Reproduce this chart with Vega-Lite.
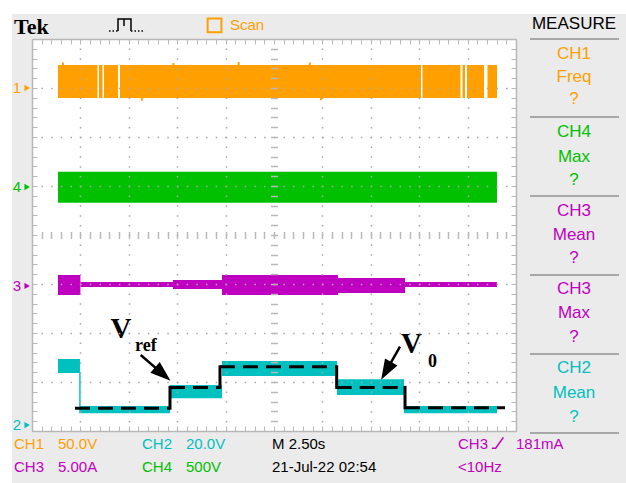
{
  "$schema": "https://vega.github.io/schema/vega-lite/v6.json",
  "width": 484,
  "height": 392,
  "autosize": {"type": "none"},
  "padding": {"left": 32, "top": 39, "right": 110, "bottom": 52},
  "background": "#ebebeb",
  "view": {"fill": "white", "stroke": null},
  "resolve": {"axis": {"x": "independent", "y": "independent"}},
  "datasets": {
    "frame": [
      {"x": -1, "x2": 13, "y": 4.51, "y2": 5.5},
      {"x": -1, "x2": -0.413, "y": -6, "y2": 5.5}
    ],
    "traces": [
      {"ch": "CH1", "x": 0.537, "x2": 1.353, "y": 2.796, "y2": 3.469},
      {"ch": "CH1", "x": 1.384, "x2": 1.457, "y": 2.796, "y2": 3.469},
      {"ch": "CH1", "x": 1.488, "x2": 1.777, "y": 2.796, "y2": 3.469},
      {"ch": "CH1", "x": 1.818, "x2": 8.037, "y": 2.796, "y2": 3.469},
      {"ch": "CH1", "x": 8.068, "x2": 8.853, "y": 2.796, "y2": 3.469},
      {"ch": "CH1", "x": 8.895, "x2": 8.946, "y": 2.796, "y2": 3.469},
      {"ch": "CH1", "x": 8.988, "x2": 9.339, "y": 2.796, "y2": 3.469},
      {"ch": "CH1", "x": 9.411, "x2": 9.607, "y": 2.796, "y2": 3.469},
      {"ch": "CH1", "x": 0.62, "x2": 0.66, "y": 3.469, "y2": 3.52},
      {"ch": "CH1", "x": 2.9, "x2": 2.94, "y": 3.469, "y2": 3.51},
      {"ch": "CH1", "x": 4.25, "x2": 4.29, "y": 3.469, "y2": 3.53},
      {"ch": "CH1", "x": 5.72, "x2": 5.76, "y": 3.469, "y2": 3.52},
      {"ch": "CH1", "x": 2.25, "x2": 2.29, "y": 2.74, "y2": 2.796},
      {"ch": "CH1", "x": 5.95, "x2": 5.99, "y": 2.75, "y2": 2.796},
      {"ch": "CH4", "x": 0.537, "x2": 9.607, "y": 0.659, "y2": 1.292},
      {"ch": "CH3", "x": 0.537, "x2": 1.0, "y": -1.224, "y2": -0.816},
      {"ch": "CH3", "x": 1.0, "x2": 2.913, "y": -1.061, "y2": -0.959},
      {"ch": "CH3", "x": 2.913, "x2": 3.926, "y": -1.102, "y2": -0.918},
      {"ch": "CH3", "x": 3.926, "x2": 6.322, "y": -1.224, "y2": -0.816},
      {"ch": "CH3", "x": 6.322, "x2": 7.707, "y": -1.184, "y2": -0.878},
      {"ch": "CH3", "x": 7.707, "x2": 9.607, "y": -1.061, "y2": -0.959},
      {"ch": "CH2", "x": 0.537, "x2": 0.992, "y": -2.816, "y2": -2.531},
      {"ch": "CH2", "x": 0.975, "x2": 1.005, "y": -3.49, "y2": -2.816},
      {"ch": "CH2", "x": 0.975, "x2": 2.851, "y": -3.639, "y2": -3.49},
      {"ch": "CH2", "x": 2.851, "x2": 3.926, "y": -3.333, "y2": -3.061},
      {"ch": "CH2", "x": 3.926, "x2": 6.302, "y": -2.878, "y2": -2.571},
      {"ch": "CH2", "x": 6.302, "x2": 7.686, "y": -3.265, "y2": -2.945},
      {"ch": "CH2", "x": 7.686, "x2": 9.607, "y": -3.639, "y2": -3.49}
    ],
    "vrefH": [
      {"x": 0.888, "x2": 2.851, "y": -3.535},
      {"x": 2.851, "x2": 3.884, "y": -3.11},
      {"x": 3.884, "x2": 6.295, "y": -2.69},
      {"x": 6.295, "x2": 7.707, "y": -3.11},
      {"x": 7.707, "x2": 9.773, "y": -3.525}
    ],
    "vrefV": [
      {"x": 2.851, "y": -3.535, "y2": -3.11},
      {"x": 3.884, "y": -3.11, "y2": -2.69},
      {"x": 6.295, "y": -2.69, "y2": -3.11},
      {"x": 7.707, "y": -3.11, "y2": -3.525}
    ],
    "arrows": [
      {"x": 2.246, "y": -2.449, "x2": 2.702, "y2": -2.839},
      {"x": 7.603, "y": -2.28, "x2": 7.318, "y2": -2.773}
    ],
    "labels": [
      {"role": "big", "text": "V", "x": 1.839, "y": -2.102},
      {"role": "sub", "text": "ref", "x": 2.128, "y": -2.367},
      {"role": "big", "text": "V", "x": 7.841, "y": -2.408},
      {"role": "sub", "text": "0", "x": 8.182, "y": -2.694}
    ],
    "markers": [
      {"text": "1", "ch": "CH1", "y": 3.0},
      {"text": "4", "ch": "CH4", "y": 0.98},
      {"text": "3", "ch": "CH3", "y": -1.04},
      {"text": "2", "ch": "CH2", "y": -3.88}
    ],
    "measure": [
      {"text": "MEASURE", "ch": "K", "y": 4.296},
      {"text": "CH1", "ch": "CH1", "y": 3.694},
      {"text": "Freq", "ch": "CH1", "y": 3.224},
      {"text": "?", "ch": "CH1", "y": 2.776},
      {"text": "CH4", "ch": "CH4", "y": 2.108},
      {"text": "Max", "ch": "CH4", "y": 1.598},
      {"text": "?", "ch": "CH4", "y": 1.122},
      {"text": "CH3", "ch": "CH3", "y": 0.496},
      {"text": "Mean", "ch": "CH3", "y": 0.0},
      {"text": "?", "ch": "CH3", "y": -0.469},
      {"text": "CH3", "ch": "CH3", "y": -1.102},
      {"text": "Max", "ch": "CH3", "y": -1.592},
      {"text": "?", "ch": "CH3", "y": -2.082},
      {"text": "CH2", "ch": "CH2", "y": -2.714},
      {"text": "Mean", "ch": "CH2", "y": -3.224},
      {"text": "?", "ch": "CH2", "y": -3.714}
    ],
    "separators": [
      {"y": 4.0}, {"y": 2.408}, {"y": 0.796}, {"y": -0.816}, {"y": -2.429}, {"y": -4.041}
    ],
    "status": [
      {"text": "Scan", "x": 4.09, "y": 4.286, "ch": "CH1"},
      {"text": "CH1", "x": -0.372, "y": -4.265, "ch": "CH1"},
      {"text": "50.0V", "x": 0.537, "y": -4.265, "ch": "CH1"},
      {"text": "CH2", "x": 2.273, "y": -4.265, "ch": "CH2"},
      {"text": "20.0V", "x": 3.182, "y": -4.265, "ch": "CH2"},
      {"text": "M 2.50s", "x": 4.959, "y": -4.265, "ch": "K"},
      {"text": "CH3", "x": 8.802, "y": -4.265, "ch": "CH3"},
      {"text": "181mA", "x": 10.0, "y": -4.265, "ch": "CH3"},
      {"text": "CH3", "x": -0.372, "y": -4.73, "ch": "CH3"},
      {"text": "5.00A", "x": 0.537, "y": -4.73, "ch": "CH3"},
      {"text": "CH4", "x": 2.273, "y": -4.73, "ch": "CH4"},
      {"text": "500V", "x": 3.182, "y": -4.73, "ch": "CH4"},
      {"text": "21-Jul-22 02:54", "x": 4.959, "y": -4.73, "ch": "K"},
      {"text": "<10Hz", "x": 8.802, "y": -4.73, "ch": "CH3"}
    ],
    "pulse": [
      {"o": 1, "x": 1.777, "y": 4.163},
      {"o": 2, "x": 1.777, "y": 4.408},
      {"o": 3, "x": 1.901, "y": 4.408},
      {"o": 4, "x": 1.901, "y": 4.265},
      {"o": 5, "x": 1.901, "y": 4.408},
      {"o": 6, "x": 2.045, "y": 4.408},
      {"o": 7, "x": 2.045, "y": 4.163}
    ],
    "pulseBase": [
      {"x": 1.591, "x2": 1.777, "y": 4.163},
      {"x": 2.045, "x2": 2.335, "y": 4.163}
    ],
    "trig": [
      {"o": 1, "x": 9.5, "y": -4.35},
      {"o": 2, "x": 9.58, "y": -4.35},
      {"o": 3, "x": 9.74, "y": -4.13}
    ]
  },
  "layer": [
    {
      "data": {"name": "frame"},
      "mark": {"type": "rect", "color": "white"},
      "encoding": {
        "x": {"field": "x", "type": "quantitative", "axis": null},
        "x2": {"field": "x2"},
        "y": {"field": "y", "type": "quantitative", "axis": null},
        "y2": {"field": "y2"}
      }
    },
    {
      "data": {"values": [{"x": 0, "y": 0}]},
      "mark": {"type": "point", "opacity": 0},
      "encoding": {
        "x": {"field": "x", "type": "quantitative",
          "scale": {"domain": [0, 10], "nice": false, "zero": false},
          "axis": {"orient": "bottom", "labels": false, "title": null, "zindex": 1,
            "values": [0,0.2,0.4,0.6,0.8,1,1.2,1.4,1.6,1.8,2,2.2,2.4,2.6,2.8,3,3.2,3.4,3.6,3.8,4,4.2,4.4,4.6,4.8,5,5.2,5.4,5.6,5.8,6,6.2,6.4,6.6,6.8,7,7.2,7.4,7.6,7.8,8,8.2,8.4,8.6,8.8,9,9.2,9.4,9.6,9.8,10],
            "domainColor": "#b8b8b8", "domainWidth": 1.5, "tickColor": "#b8b8b8", "tickSize": -5, "tickWidth": 1,
            "grid": true, "gridColor": "#a8a8a8", "gridWidth": 1.5, "gridDash": [1.5, 8.3], "gridDashOffset": 0.75,
            "gridOpacity": {"condition": {"test": "abs(datum.value - round(datum.value)) < 0.01 && datum.value > 0.5 && datum.value < 9.5 && abs(datum.value - 5) > 0.5", "value": 1}, "value": 0}}},
        "y": {"field": "y", "type": "quantitative",
          "scale": {"domain": [-4, 4], "nice": false, "zero": false},
          "axis": {"orient": "left", "labels": false, "title": null, "zindex": 1,
            "values": [-4,-3.8,-3.6,-3.4,-3.2,-3,-2.8,-2.6,-2.4,-2.2,-2,-1.8,-1.6,-1.4,-1.2,-1,-0.8,-0.6,-0.4,-0.2,0,0.2,0.4,0.6,0.8,1,1.2,1.4,1.6,1.8,2,2.2,2.4,2.6,2.8,3,3.2,3.4,3.6,3.8,4],
            "domainColor": "#b8b8b8", "domainWidth": 1.5, "tickColor": "#b8b8b8", "tickSize": -5, "tickWidth": 1,
            "grid": true, "gridColor": "#a8a8a8", "gridWidth": 1.5, "gridDash": [1.5, 8.18], "gridDashOffset": 0.75,
            "gridOpacity": {"condition": {"test": "abs(datum.value - round(datum.value)) < 0.01 && datum.value > -3.5 && datum.value < 3.5 && abs(datum.value) > 0.5", "value": 1}, "value": 0}}}
      }
    },
    {
      "data": {"values": [{"x": 0, "y": 0}]},
      "mark": {"type": "point", "opacity": 0},
      "encoding": {
        "x": {"field": "x", "type": "quantitative",
          "axis": {"orient": "top", "labels": false, "title": null, "zindex": 1, "grid": false,
            "values": [0,0.2,0.4,0.6,0.8,1,1.2,1.4,1.6,1.8,2,2.2,2.4,2.6,2.8,3,3.2,3.4,3.6,3.8,4,4.2,4.4,4.6,4.8,5,5.2,5.4,5.6,5.8,6,6.2,6.4,6.6,6.8,7,7.2,7.4,7.6,7.8,8,8.2,8.4,8.6,8.8,9,9.2,9.4,9.6,9.8,10],
            "domainColor": "#b8b8b8", "domainWidth": 1.5, "tickColor": "#b8b8b8", "tickSize": -5, "tickWidth": 1}},
        "y": {"field": "y", "type": "quantitative",
          "axis": {"orient": "right", "labels": false, "title": null, "zindex": 1, "grid": false,
            "values": [-4,-3.8,-3.6,-3.4,-3.2,-3,-2.8,-2.6,-2.4,-2.2,-2,-1.8,-1.6,-1.4,-1.2,-1,-0.8,-0.6,-0.4,-0.2,0,0.2,0.4,0.6,0.8,1,1.2,1.4,1.6,1.8,2,2.2,2.4,2.6,2.8,3,3.2,3.4,3.6,3.8,4],
            "domainColor": "#b8b8b8", "domainWidth": 1.5, "tickColor": "#b8b8b8", "tickSize": -5, "tickWidth": 1}}
      }
    },
    {
      "data": {"values": [{"x": 0, "y": 0}]},
      "mark": {"type": "point", "opacity": 0},
      "encoding": {
        "x": {"field": "x", "type": "quantitative",
          "axis": {"orient": "bottom", "offset": -199.5, "labels": false, "title": null, "zindex": 1, "grid": false, "domain": false,
            "values": [0.2,0.4,0.6,0.8,1,1.2,1.4,1.6,1.8,2,2.2,2.4,2.6,2.8,3,3.2,3.4,3.6,3.8,4,4.2,4.4,4.6,4.8,5,5.2,5.4,5.6,5.8,6,6.2,6.4,6.6,6.8,7,7.2,7.4,7.6,7.8,8,8.2,8.4,8.6,8.8,9,9.2,9.4,9.6,9.8],
            "tickColor": "#b8b8b8", "tickSize": 7, "tickWidth": 1.5}},
        "y": {"field": "y", "type": "quantitative",
          "axis": {"orient": "left", "offset": -245.5, "labels": false, "title": null, "zindex": 1, "grid": false, "domain": false,
            "values": [-3.8,-3.6,-3.4,-3.2,-3,-2.8,-2.6,-2.4,-2.2,-2,-1.8,-1.6,-1.4,-1.2,-1,-0.8,-0.6,-0.4,-0.2,0,0.2,0.4,0.6,0.8,1,1.2,1.4,1.6,1.8,2,2.2,2.4,2.6,2.8,3,3.2,3.4,3.6,3.8],
            "tickColor": "#b8b8b8", "tickSize": 7, "tickWidth": 1.5}}
      }
    },
    {
      "data": {"name": "traces"},
      "mark": {"type": "rect"},
      "encoding": {
        "x": {"field": "x", "type": "quantitative", "axis": null},
        "x2": {"field": "x2"},
        "y": {"field": "y", "type": "quantitative", "axis": null},
        "y2": {"field": "y2"},
        "color": {"field": "ch", "type": "nominal", "legend": null,
          "scale": {"domain": ["CH1", "CH2", "CH3", "CH4", "K"], "range": ["#ffa000", "#00c0c0", "#c000c0", "#00c000", "#000000"]}}
      }
    },
    {
      "data": {"name": "vrefH"},
      "mark": {"type": "rule", "color": "black", "strokeWidth": 3, "strokeDash": [15, 8]},
      "encoding": {
        "x": {"field": "x", "type": "quantitative", "axis": null},
        "x2": {"field": "x2"},
        "y": {"field": "y", "type": "quantitative", "axis": null}
      }
    },
    {
      "data": {"name": "vrefV"},
      "mark": {"type": "rule", "color": "black", "strokeWidth": 3, "strokeCap": "square"},
      "encoding": {
        "x": {"field": "x", "type": "quantitative", "axis": null},
        "y": {"field": "y", "type": "quantitative", "axis": null},
        "y2": {"field": "y2"}
      }
    },
    {
      "data": {"name": "arrows"},
      "mark": {"type": "rule", "color": "black", "strokeWidth": 2.5},
      "encoding": {
        "x": {"field": "x", "type": "quantitative", "axis": null},
        "y": {"field": "y", "type": "quantitative", "axis": null},
        "x2": {"field": "x2"},
        "y2": {"field": "y2"}
      }
    },
    {
      "data": {"values": [{"x": 2.702, "y": -2.839}]},
      "mark": {"type": "point", "shape": "M0,-1L0.7,1L-0.7,1Z", "size": 420, "filled": true, "color": "black", "opacity": 1, "angle": 130.9},
      "encoding": {
        "x": {"field": "x", "type": "quantitative", "axis": null},
        "y": {"field": "y", "type": "quantitative", "axis": null}
      }
    },
    {
      "data": {"values": [{"x": 7.318, "y": -2.773}]},
      "mark": {"type": "point", "shape": "M0,-1L0.7,1L-0.7,1Z", "size": 420, "filled": true, "color": "black", "opacity": 1, "angle": 209.7},
      "encoding": {
        "x": {"field": "x", "type": "quantitative", "axis": null},
        "y": {"field": "y", "type": "quantitative", "axis": null}
      }
    },
    {
      "data": {"name": "labels"},
      "transform": [{"filter": "datum.role == 'big'"}],
      "mark": {"type": "text", "font": "Liberation Serif", "fontWeight": "bold", "fontSize": 29, "align": "center", "baseline": "alphabetic", "color": "black"},
      "encoding": {
        "x": {"field": "x", "type": "quantitative", "axis": null},
        "y": {"field": "y", "type": "quantitative", "axis": null},
        "text": {"field": "text"}
      }
    },
    {
      "data": {"name": "labels"},
      "transform": [{"filter": "datum.role == 'sub'"}],
      "mark": {"type": "text", "font": "Liberation Serif", "fontWeight": "bold", "fontSize": 18, "align": "left", "baseline": "alphabetic", "color": "black"},
      "encoding": {
        "x": {"field": "x", "type": "quantitative", "axis": null},
        "y": {"field": "y", "type": "quantitative", "axis": null},
        "text": {"field": "text"}
      }
    },
    {
      "data": {"name": "markers"},
      "mark": {"type": "text", "font": "Liberation Sans", "fontSize": 15, "align": "center", "baseline": "middle"},
      "encoding": {
        "x": {"datum": -0.31, "type": "quantitative", "axis": null},
        "y": {"field": "y", "type": "quantitative", "axis": null},
        "text": {"field": "text"},
        "color": {"field": "ch", "type": "nominal", "legend": null}
      }
    },
    {
      "data": {"name": "markers"},
      "mark": {"type": "point", "shape": "triangle-right", "size": 40, "filled": true, "opacity": 1},
      "encoding": {
        "x": {"datum": -0.1, "type": "quantitative", "axis": null},
        "y": {"field": "y", "type": "quantitative", "axis": null},
        "color": {"field": "ch", "type": "nominal", "legend": null}
      }
    },
    {
      "data": {"values": [{"text": "Tek", "x": -0.372, "y": 4.102}]},
      "mark": {"type": "text", "font": "Liberation Serif", "fontWeight": "bold", "fontSize": 22, "align": "left", "baseline": "alphabetic", "color": "black"},
      "encoding": {
        "x": {"field": "x", "type": "quantitative", "axis": null},
        "y": {"field": "y", "type": "quantitative", "axis": null},
        "text": {"field": "text"}
      }
    },
    {
      "data": {"values": [{"x": 3.771, "y": 4.276}]},
      "mark": {"type": "point", "shape": "square", "size": 190, "filled": false, "color": "#ffa000", "strokeWidth": 2, "opacity": 1},
      "encoding": {
        "x": {"field": "x", "type": "quantitative", "axis": null},
        "y": {"field": "y", "type": "quantitative", "axis": null}
      }
    },
    {
      "data": {"name": "pulse"},
      "mark": {"type": "line", "color": "black", "strokeWidth": 1.5},
      "encoding": {
        "x": {"field": "x", "type": "quantitative", "axis": null},
        "y": {"field": "y", "type": "quantitative", "axis": null},
        "order": {"field": "o"}
      }
    },
    {
      "data": {"name": "pulseBase"},
      "mark": {"type": "rule", "color": "black", "strokeWidth": 1.5, "strokeDash": [1.5, 2]},
      "encoding": {
        "x": {"field": "x", "type": "quantitative", "axis": null},
        "x2": {"field": "x2"},
        "y": {"field": "y", "type": "quantitative", "axis": null}
      }
    },
    {
      "data": {"name": "separators"},
      "mark": {"type": "rule", "color": "#a8a8a8", "strokeWidth": 2},
      "encoding": {
        "x": {"datum": 10.289, "type": "quantitative", "axis": null},
        "x2": {"datum": 12.128},
        "y": {"field": "y", "type": "quantitative", "axis": null}
      }
    },
    {
      "data": {"name": "measure"},
      "mark": {"type": "text", "font": "Liberation Sans", "fontSize": 17, "align": "center", "baseline": "middle"},
      "encoding": {
        "x": {"datum": 11.198, "type": "quantitative", "axis": null},
        "y": {"field": "y", "type": "quantitative", "axis": null},
        "text": {"field": "text"},
        "color": {"field": "ch", "type": "nominal", "legend": null}
      }
    },
    {
      "data": {"name": "status"},
      "mark": {"type": "text", "font": "Liberation Sans", "fontSize": 15, "align": "left", "baseline": "middle"},
      "encoding": {
        "x": {"field": "x", "type": "quantitative", "axis": null},
        "y": {"field": "y", "type": "quantitative", "axis": null},
        "text": {"field": "text"},
        "color": {"field": "ch", "type": "nominal", "legend": null}
      }
    },
    {
      "data": {"name": "trig"},
      "mark": {"type": "line", "color": "#c000c0", "strokeWidth": 1.5},
      "encoding": {
        "x": {"field": "x", "type": "quantitative", "axis": null},
        "y": {"field": "y", "type": "quantitative", "axis": null},
        "order": {"field": "o"}
      }
    }
  ]
}
